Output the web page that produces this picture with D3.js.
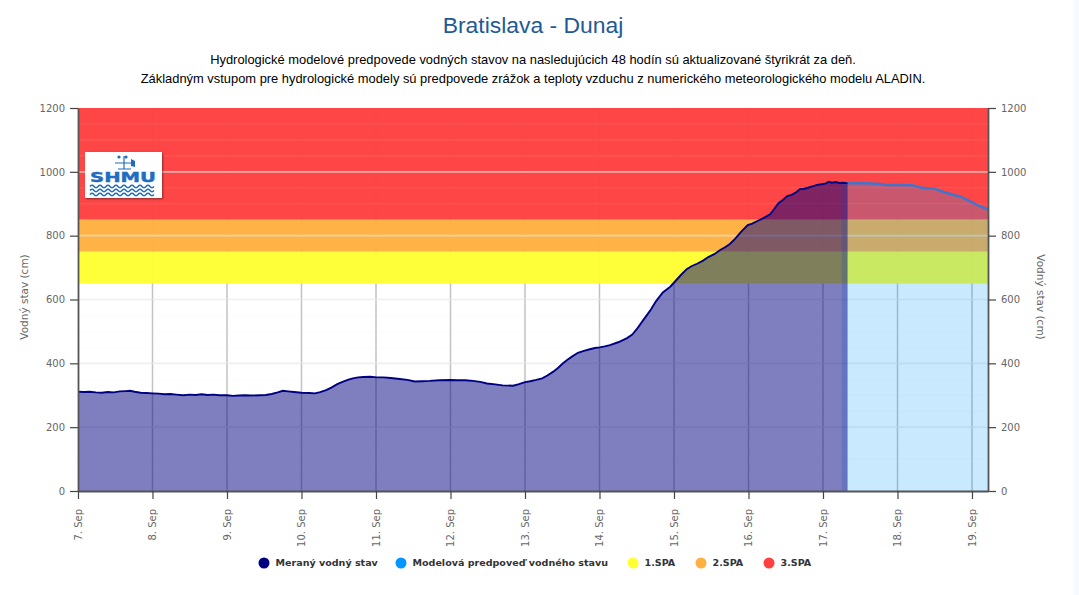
<!DOCTYPE html>
<html><head><meta charset="utf-8">
<script src="https://d3js.org/d3.v7.min.js"></script>
<style>html,body{margin:0;padding:0;background:#fff;overflow:hidden}svg{display:block}</style>
</head><body><svg id="c" width="1079" height="595"></svg>
<script>
const titleText = "Bratislava - Dunaj";
const subtitleLines = ["Hydrologické modelové predpovede vodných stavov na nasledujúcich 48 hodín sú aktualizované štyrikrát za deň.",
 "Základným vstupom pre hydrologické modely sú predpovede zrážok a teploty vzduchu z numerického meteorologického modelu ALADIN."];
const yTitle = "Vodný stav (cm)";
const tickLabels = ["7. Sep","8. Sep","9. Sep","10. Sep","11. Sep","12. Sep","13. Sep","14. Sep","15. Sep","16. Sep","17. Sep","18. Sep","19. Sep"];
const yTicks = [0,200,400,600,800,1000,1200];
const yMinor = [50,100,150,250,300,350,450,500,550,650,700,750,850,900,950,1050,1100,1150];
const bandNames = ["1.SPA","2.SPA","3.SPA"];
const bandFrom = [650,750,850];
const bandTo = [750,850,1200];
const bandColors = ["#ffff33","#ffb040","#ff4040"];
const seriesNames = ["Meraný vodný stav","Modelová predpoveď vodného stavu"];
const measuredDay = [0,.08,.16,.24,.32,.4,.48,.56,.64,.7,.76,.84,.92,1,1.08,1.16,1.24,1.32,1.41,1.5,1.58,1.66,1.74,1.82,1.9,2,2.08,2.16,2.24,2.32,2.44,2.52,2.6,2.68,2.75,2.82,2.9,3,3.11,3.18,3.25,3.33,3.4,3.48,3.55,3.63,3.69,3.76,3.83,3.92,4.01,4.1,4.2,4.32,4.42,4.52,4.62,4.72,4.85,5,5.1,5.2,5.3,5.4,5.49,5.6,5.7,5.84,5.92,6,6.07,6.15,6.23,6.3,6.38,6.45,6.51,6.57,6.63,6.71,6.79,6.87,6.94,7,7.07,7.14,7.25,7.37,7.44,7.5,7.58,7.68,7.76,7.85,7.95,8.02,8.09,8.17,8.24,8.31,8.39,8.46,8.54,8.62,8.68,8.75,8.82,8.9,8.99,9.05,9.12,9.2,9.29,9.35,9.4,9.46,9.52,9.58,9.64,9.69,9.75,9.81,9.87,9.92,9.98,10.04,10.08,10.12,10.17,10.22,10.27,10.33];
const measuredLevel = [311,310,311,309,308,310,309,312,313,314,311,308,307,306,305,303,304,302,300,302,301,303,301,302,300,300,298,299,300,299,300,301,304,309,314,312,310,308,307,306,310,316,324,335,342,349,353,356,357,358,356,356,354,351,348,343,344,345,347,348,347,347,345,342,337,334,331,330,335,341,344,348,353,362,374,387,400,411,421,433,439,444,448,450,453,457,466,479,490,507,533,565,595,622,640,658,676,695,705,712,722,733,742,755,763,774,790,812,833,838,846,855,867,885,901,912,924,928,936,946,947,951,955,959,961,964,969,966,968,965,966,964];
const forecastDay = [10.25,10.4,10.6,10.78,10.85,11,11.2,11.33,11.5,11.62,11.85,12.05,12.215];
const forecastLevel = [966,964,964,962,959,959,958,950,947,937,922,899,882];

const svg = d3.select("#c");
const x = d3.scaleLinear().domain([0,12.215]).range([78,988]);
const y = d3.scaleLinear().domain([0,1200]).range([491,108]);
const sans = "'Liberation Sans',Arial,sans-serif", deja = "'DejaVu Sans',Verdana,sans-serif";

svg.append("rect").attr("x",1074).attr("width",5).attr("height",595).attr("fill","#f7fbff");
svg.append("text").attr("x",533).attr("y",33).attr("text-anchor","middle").attr("font-family",sans).attr("font-size",22.9).attr("fill","#1f5a96").text(titleText);
subtitleLines.forEach((t,i)=>svg.append("text").attr("x",533).attr("y",64+i*19).attr("text-anchor","middle").attr("font-family",sans).attr("font-size",12.9).attr("fill","#000").text(t));

svg.append("g").selectAll("line").data(tickLabels.slice(1)).join("line")
 .attr("x1",(d,i)=>x(i+1)).attr("x2",(d,i)=>x(i+1)).attr("y1",y(1200)).attr("y2",y(0))
 .attr("stroke","#c2c2c2").attr("stroke-width",1.5);
svg.append("g").selectAll("rect").data(bandFrom).join("rect")
 .attr("x",x(0)).attr("width",x.range()[1]-x(0))
 .attr("y",(d,i)=>y(bandTo[i])).attr("height",(d,i)=>y(bandFrom[i])-y(bandTo[i]))
 .attr("fill",(d,i)=>bandColors[i]).attr("opacity",.97);
svg.append("g").selectAll("line").data(yMinor).join("line")
 .attr("x1",x(0)).attr("x2",988).attr("y1",d=>y(d)).attr("y2",d=>y(d)).attr("stroke","#e6e6e6").attr("stroke-opacity",.14);
svg.append("g").selectAll("line").data(yTicks.slice(1,6)).join("line")
 .attr("x1",x(0)).attr("x2",988).attr("y1",d=>y(d)).attr("y2",d=>y(d)).attr("stroke","#e6e6e6").attr("stroke-width",1.6).attr("stroke-opacity",.65);

const mData = measuredDay.map((d,i)=>[d,measuredLevel[i]]);
const fData = forecastDay.map((d,i)=>[d,forecastLevel[i]]);
const area = d3.area().x(d=>x(d[0])).y0(y(0)).y1(d=>y(d[1]));
const line = d3.line().x(d=>x(d[0])).y(d=>y(d[1]));
svg.append("path").attr("d",area(fData)).attr("fill","#0096ff").attr("fill-opacity",.21);
svg.append("path").attr("d",area(mData)).attr("fill","#000080").attr("fill-opacity",.5);
svg.append("path").attr("d",line(fData)).attr("fill","none").attr("stroke","#2f7ad8").attr("stroke-width",2.5).attr("stroke-opacity",.9);
svg.append("path").attr("d",line(mData)).attr("fill","none").attr("stroke","#000080").attr("stroke-width",1.9);

function style(g){
 g.selectAll("text").attr("font-family",deja).attr("font-size",10).attr("fill","#666");
 g.selectAll(".tick line").attr("stroke","#444").attr("stroke-width",1.2);
 g.select(".domain").attr("stroke","#555").attr("stroke-width",1.8);
}
const fmt = d3.format("d");
svg.append("g").attr("transform","translate(78,0)").call(d3.axisLeft(y).tickValues(yTicks).tickFormat(fmt).tickSize(8).tickSizeOuter(0).tickPadding(5)).call(style);
svg.append("g").attr("transform","translate(988,0)").call(d3.axisRight(y).tickValues(yTicks).tickFormat(fmt).tickSize(8).tickSizeOuter(0).tickPadding(5)).call(style);
const gb = svg.append("g").attr("transform","translate(0,491)").call(d3.axisBottom(x).tickValues(d3.range(tickLabels.length)).tickFormat(i=>tickLabels[i]).tickSize(8).tickSizeOuter(0)).call(style);
gb.selectAll(".tick text").attr("transform","rotate(-90)").attr("text-anchor","end").attr("x",-18).attr("y",0).attr("dy","0.35em");
svg.append("text").attr("transform","translate(28,297) rotate(-90)").attr("text-anchor","middle").attr("font-family",deja).attr("font-size",10.5).attr("fill","#666").text(yTitle);
svg.append("text").attr("transform","translate(1037,297) rotate(90)").attr("text-anchor","middle").attr("font-family",deja).attr("font-size",10.5).attr("fill","#666").text(yTitle);

const legendNames = seriesNames.concat(bandNames);
const legendColors = ["#000080","#0096ff"].concat(bandColors);
const legendX = [264,401,633,701,769];
const lg = svg.append("g").selectAll("g").data(legendNames).join("g").attr("transform",(d,i)=>`translate(${legendX[i]},563)`);
lg.append("circle").attr("r",5.5).attr("fill",(d,i)=>legendColors[i]);
lg.append("text").attr("x",11.5).attr("dy","0.35em").attr("font-family",deja).attr("font-weight","bold").attr("font-size",9.55).attr("fill","#333").text(d=>d);

const fl = svg.append("defs").append("filter").attr("id","sh").attr("x","-10%").attr("y","-10%").attr("width","125%").attr("height","130%");
fl.append("feDropShadow").attr("dx",1).attr("dy",1).attr("stdDeviation",1).attr("flood-opacity",.45);
const logo = svg.append("g").attr("transform","translate(85,152)");
logo.append("rect").attr("width",77).attr("height",46).attr("fill","#fff").attr("filter","url(#sh)");
const blue = "#1f6cc0";
logo.append("path").attr("d","M30 11H46M39 4V17M33 17H46").attr("stroke",blue).attr("stroke-width",1.2).attr("fill","none");
logo.append("path").attr("d","M46 7L50 9V15L46 14Z").attr("fill",blue);
logo.append("circle").attr("cx",34).attr("cy",5).attr("r",1.6).attr("fill",blue);
logo.append("circle").attr("cx",41).attr("cy",5).attr("r",1.6).attr("fill",blue);
logo.append("text").attr("x",38).attr("y",29.5).attr("text-anchor","middle").attr("font-family",deja).attr("font-weight","bold").attr("font-size",13.5).attr("textLength",66).attr("lengthAdjust","spacingAndGlyphs").attr("fill",blue).attr("stroke",blue).attr("stroke-width",.4).text("SHMU");
[34.5,38.5,42.5].forEach(v=>logo.append("path").attr("d",`M5 ${v}`+d3.range(8).map(()=>"q2 -2.4 4 0t4 0").join("")).attr("fill","none").attr("stroke",blue).attr("stroke-width",1.5));
</script></body></html>
